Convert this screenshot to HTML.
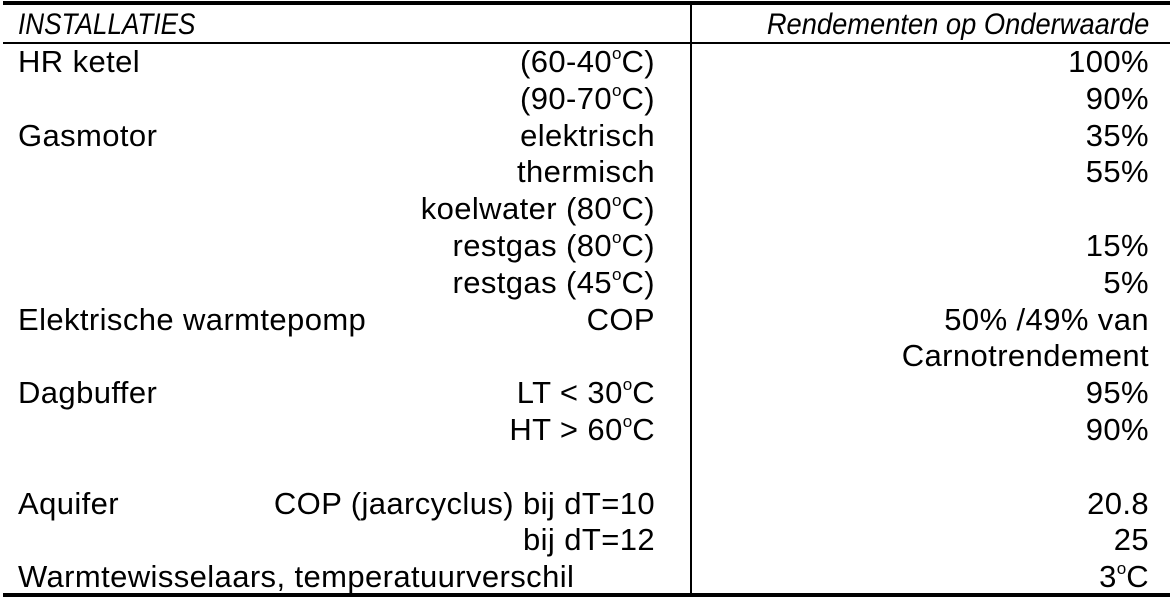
<!DOCTYPE html>
<html><head><meta charset="utf-8">
<style>
html,body{margin:0;padding:0;background:#fff;}
body{width:1173px;height:600px;position:relative;overflow:hidden;font-family:"Liberation Sans",sans-serif;color:#000;}
.line{position:absolute;background:#000;}
.hdr{position:absolute;top:6px;height:38px;line-height:38px;font-size:30px;font-style:italic;white-space:nowrap;}
#rows{position:absolute;left:0;top:44px;width:1173px;}
.row{position:relative;height:36.8px;line-height:36.8px;font-size:31px;letter-spacing:0.4px;}
.row span{position:absolute;white-space:nowrap;top:0;}
.c1{left:18px;}
.c2{right:518px;text-align:right;}
.c3{right:24px;text-align:right;}
sup{font-size:0.55em;vertical-align:0.75em;line-height:0;letter-spacing:0;}
</style></head><body>
<div class="line" style="left:3px;top:1px;width:1167px;height:4px;"></div>
<div class="line" style="left:3px;top:42px;width:1167px;height:2px;"></div>
<div class="line" style="left:3px;top:593px;width:1167px;height:4px;"></div>
<div class="line" style="left:690px;top:3px;width:2px;height:592px;"></div>
<div class="hdr" style="left:18px;transform:scaleX(0.87);transform-origin:left center;">INSTALLATIES</div>
<div class="hdr" style="right:24px;transform:scaleX(0.91);transform-origin:right center;">Rendementen op Onderwaarde</div>
<div id="rows">
<div class="row"><span class="c1">HR ketel</span><span class="c2">(60-40<sup>o</sup>C)</span><span class="c3">100%</span></div>
<div class="row"><span class="c2">(90-70<sup>o</sup>C)</span><span class="c3">90%</span></div>
<div class="row"><span class="c1">Gasmotor</span><span class="c2">elektrisch</span><span class="c3">35%</span></div>
<div class="row"><span class="c2">thermisch</span><span class="c3">55%</span></div>
<div class="row"><span class="c2">koelwater (80<sup>o</sup>C)</span></div>
<div class="row"><span class="c2">restgas (80<sup>o</sup>C)</span><span class="c3">15%</span></div>
<div class="row"><span class="c2">restgas (45<sup>o</sup>C)</span><span class="c3">5%</span></div>
<div class="row"><span class="c1">Elektrische warmtepomp</span><span class="c2">COP</span><span class="c3">50% /49% van</span></div>
<div class="row"><span class="c3">Carnotrendement</span></div>
<div class="row"><span class="c1">Dagbuffer</span><span class="c2">LT &lt; 30<sup>o</sup>C</span><span class="c3">95%</span></div>
<div class="row"><span class="c2">HT &gt; 60<sup>o</sup>C</span><span class="c3">90%</span></div>
<div class="row"></div>
<div class="row"><span class="c1">Aquifer</span><span class="c2">COP (jaarcyclus) bij dT=10</span><span class="c3">20.8</span></div>
<div class="row"><span class="c2">bij dT=12</span><span class="c3">25</span></div>
<div class="row"><span class="c1">Warmtewisselaars, temperatuurverschil</span><span class="c3">3<sup>o</sup>C</span></div>
</div>
</body></html>
